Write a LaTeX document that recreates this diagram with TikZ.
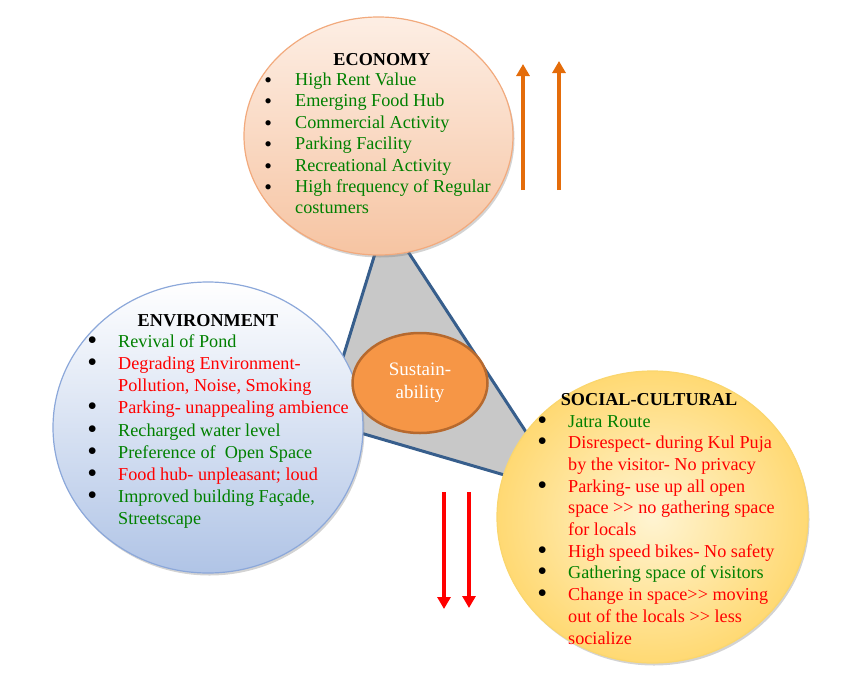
\documentclass[tikz,border=0pt]{standalone}
\usepackage{fontspec}
\setmainfont{Liberation Serif}
\usepackage{tikz}
\usetikzlibrary{shapes.geometric,shadows,arrows.meta}

\definecolor{itemgreen}{RGB}{0,128,0}
\definecolor{itemred}{RGB}{255,0,0}
\definecolor{ecotop}{RGB}{253,238,228}
\definecolor{ecobot}{RGB}{246,196,162}
\definecolor{ecoline}{RGB}{242,170,125}
\definecolor{envtop}{RGB}{255,255,255}
\definecolor{envbot}{RGB}{176,196,230}
\definecolor{envline}{RGB}{140,168,218}
\definecolor{socin}{RGB}{255,244,210}
\definecolor{socout}{RGB}{255,217,115}
\definecolor{socline}{RGB}{250,214,110}
\definecolor{triline}{RGB}{55,94,140}
\definecolor{trifill}{RGB}{200,200,200}
\definecolor{sustfill}{RGB}{246,150,70}
\definecolor{sustline}{RGB}{182,105,46}
\definecolor{uparrow}{RGB}{228,108,10}

% bullet centred #1 left of the text, scaled by #2
\newcommand{\itm}[4][26pt]{\llap{\makebox[0pt]{\raisebox{-2pt}{\scalebox{#2}{\textbullet}}}\hspace{#1}}\textcolor{#3}{#4}}
\newcommand{\ecoitm}[2]{\itm[27pt]{1.2}{#1}{#2}}
\newcommand{\bigitm}[2]{\itm{1.55}{#1}{#2}}
\newcommand{\dblgt}{>\kern0pt>}

\tikzset{
  circ/.style={ellipse, draw, line width=1.2pt, inner sep=0pt,
    drop shadow={opacity=0.35, shadow xshift=1.5pt, shadow yshift=-2.5pt}},
  head/.style={font=\fontsize{18.2}{22}\selectfont\bfseries, anchor=base},
  items/.style={anchor=base west, align=left, inner sep=0pt},
  trend/.style={line width=4pt, -{Triangle[width=13pt,length=12pt]}}
}

\begin{document}
\begin{tikzpicture}[x=1pt,y=-1pt]
	\useasboundingbox (0,0) rectangle (842,677);

	\coordinate (tri eco) at (386,218);
	\coordinate (tri env) at (323,422);
	\coordinate (tri soc) at (566,493);
	\filldraw[fill=trifill, draw=triline, line width=3pt, line join=round]
		(tri eco) -- (tri env) -- (tri soc) -- cycle;

	\node[circ, draw=ecoline, top color=ecotop, bottom color=ecobot,
		minimum width=269pt, minimum height=238pt] (economy) at (378.5,136) {};
	\node[circ, draw=envline, top color=envtop, bottom color=envbot,
		minimum width=310pt, minimum height=291pt] (environment) at (208,427.5) {};
	\node[circ, draw=socline, inner color=socin, outer color=socout,
		minimum width=311pt, minimum height=292pt] (social) at (652.5,517) {};

	% lists sit on the baseline of their last line
	\node[head] (economy title) at (382,65) {ECONOMY};
	\node[items, font=\fontsize{18.2}{21.4}\selectfont] (economy list) at (295,213.9) {
		\ecoitm{itemgreen}{High Rent Value}\\
		\ecoitm{itemgreen}{Emerging Food Hub}\\
		\ecoitm{itemgreen}{Commercial Activity}\\
		\ecoitm{itemgreen}{Parking Facility}\\
		\ecoitm{itemgreen}{Recreational Activity}\\
		\ecoitm{itemgreen}{High frequency of Regular}\\
		\textcolor{itemgreen}{costumers}};

	\node[head] (environment title) at (208,326) {ENVIRONMENT};
	\node[items, font=\fontsize{18.2}{22.2}\selectfont] (environment list) at (118,524.8) {
		\bigitm{itemgreen}{Revival of Pond}\\
		\bigitm{itemred}{Degrading Environment-}\\
		\textcolor{itemred}{Pollution, Noise, Smoking}\\
		\bigitm{itemred}{Parking- unappealing ambience}\\
		\bigitm{itemgreen}{Recharged water level}\\
		\bigitm{itemgreen}{Preference of~ Open Space}\\
		\bigitm{itemred}{Food hub- unpleasant; loud}\\
		\bigitm{itemgreen}{Improved building Façade,}\\
		\textcolor{itemgreen}{Streetscape}};

	\node[head] (social title) at (649,405) {SOCIAL-CULTURAL};
	\node[items, font=\fontsize{18.2}{21.7}\selectfont] (social list) at (568,644) {
		\bigitm{itemgreen}{Jatra Route}\\
		\bigitm{itemred}{Disrespect- during Kul Puja}\\
		\textcolor{itemred}{by the visitor- No privacy}\\
		\bigitm{itemred}{Parking- use up all open}\\
		\textcolor{itemred}{space \dblgt{} no gathering space}\\
		\textcolor{itemred}{for locals}\\
		\bigitm{itemred}{High speed bikes- No safety}\\
		\bigitm{itemgreen}{Gathering space of visitors}\\
		\bigitm{itemred}{Change in space\dblgt{} moving}\\
		\textcolor{itemred}{out of the locals \dblgt{} less}\\
		\textcolor{itemred}{socialize}};

	\node[ellipse, draw=sustline, fill=sustfill, line width=2.5pt,
		minimum width=135pt, minimum height=100pt, inner sep=0pt,
		text=white, align=center, font=\fontsize{19}{23}\selectfont]
		(sustain) at (420,383) {Sustain-\\ability};

	\coordinate (up a start) at (523,190);
	\coordinate (up a end) at (523,64);
	\coordinate (up b start) at (559,190);
	\coordinate (up b end) at (559,61);
	\coordinate (down a start) at (444,492);
	\coordinate (down a end) at (444,609);
	\coordinate (down b start) at (469,492);
	\coordinate (down b end) at (469,608);
	\draw[trend, uparrow] (up a start) -- (up a end);
	\draw[trend, uparrow] (up b start) -- (up b end);
	\draw[trend, red] (down a start) -- (down a end);
	\draw[trend, red] (down b start) -- (down b end);
\end{tikzpicture}
\end{document}
